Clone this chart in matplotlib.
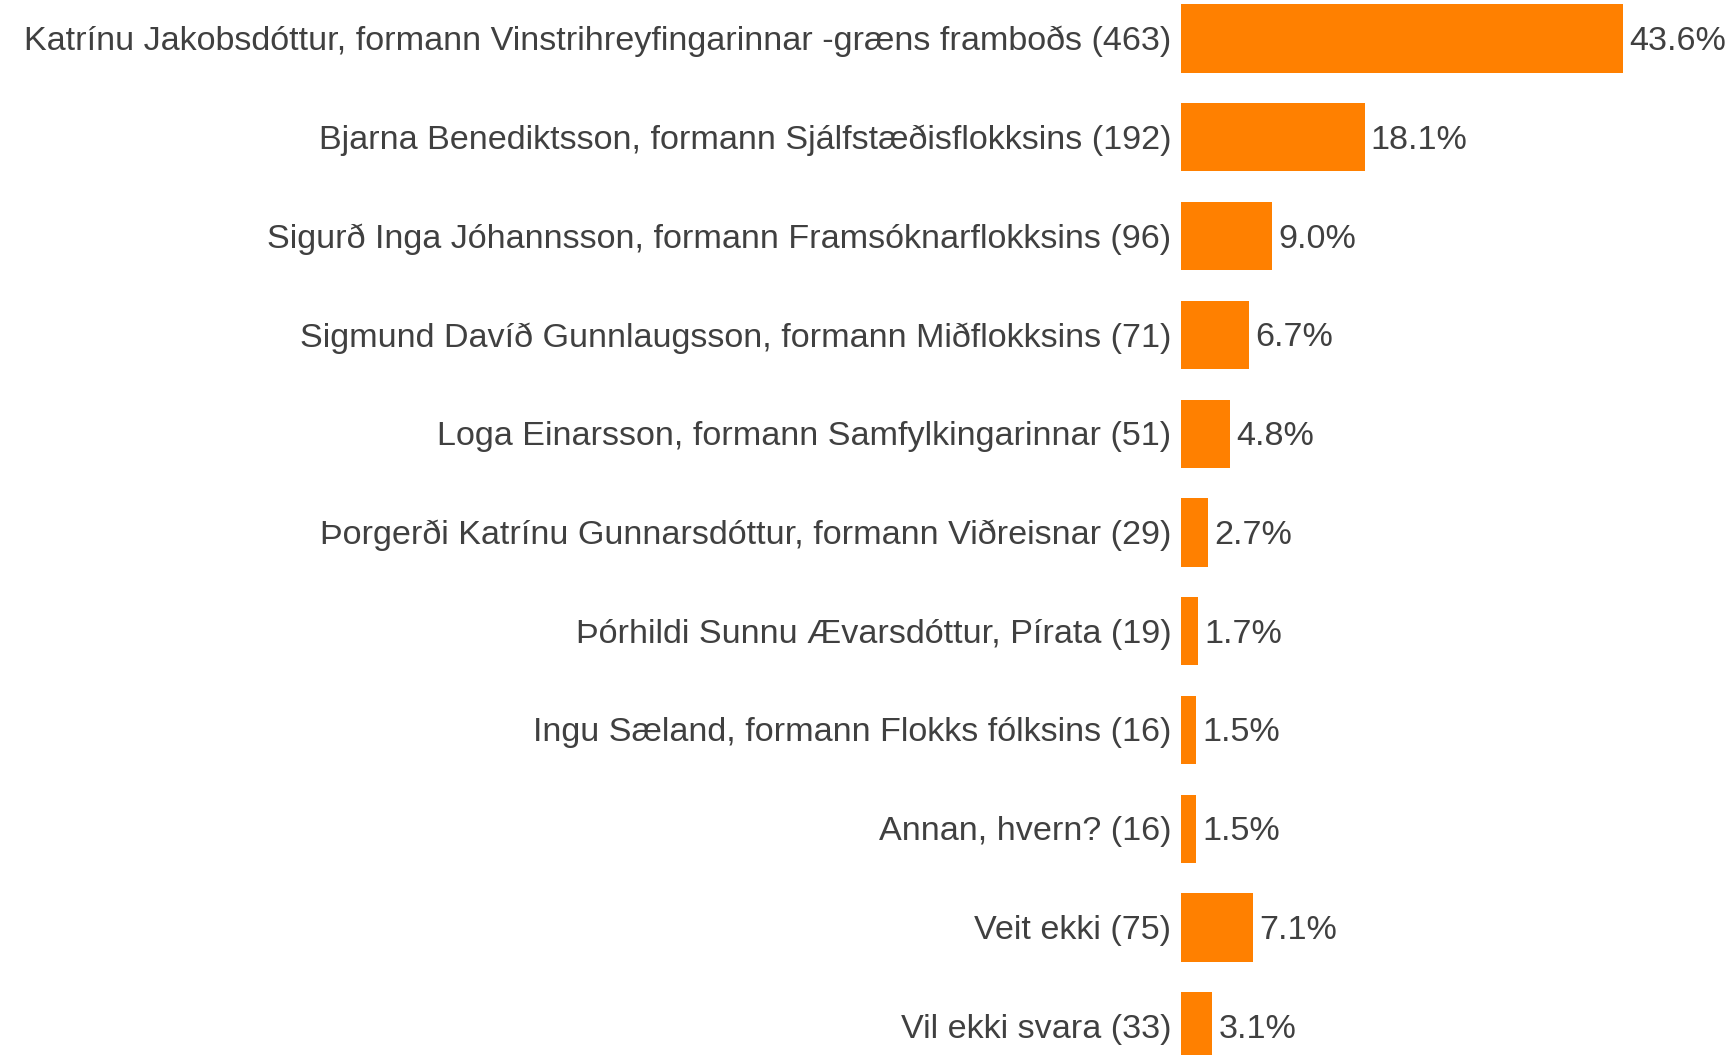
import matplotlib
matplotlib.use('Agg')
import matplotlib.pyplot as plt

plt.rcParams['font.family'] = ['Liberation Sans', 'DejaVu Sans']

# Data
labels = [
    'Katrínu Jakobsdóttur, formann Vinstrihreyfingarinnar -græns framboðs (463)',
    'Bjarna Benediktsson, formann Sjálfstæðisflokksins (192)',
    'Sigurð Inga Jóhannsson, formann Framsóknarflokksins (96)',
    'Sigmund Davíð Gunnlaugsson, formann Miðflokksins (71)',
    'Loga Einarsson, formann Samfylkingarinnar (51)',
    'Þorgerði Katrínu Gunnarsdóttur, formann Viðreisnar (29)',
    'Þórhildi Sunnu Ævarsdóttur, Pírata (19)',
    'Ingu Sæland, formann Flokks fólksins (16)',
    'Annan, hvern? (16)',
    'Veit ekki (75)',
    'Vil ekki svara (33)',
]
pct = [43.6, 18.1, 9.0, 6.7, 4.8, 2.7, 1.7, 1.5, 1.5, 7.1, 3.1]

W, H = 1731, 1055
fig = plt.figure(figsize=(W / 100, H / 100), dpi=100)
ax = fig.add_axes([1181 / W, 0, 1 - 1181 / W, 1])

y = list(range(len(pct)))
ax.barh(y, pct, height=0.69, color='#FF8000')
ax.set_ylim(10.29, -0.39)
ax.set_xlim(0, 54.2)

txt = '#404040'
for i, (lab, v) in enumerate(zip(labels, pct)):
    ax.text(-0.95, i + 0.03, lab, ha='right', va='center', fontsize=24.6,
            color=txt, clip_on=False)
    ax.text(v + 0.6, i + 0.03, f'{v:.1f}%', ha='left', va='center',
            fontsize=24.6, color=txt, clip_on=False)

ax.axis('off')
fig.savefig('out.png', dpi=100)
